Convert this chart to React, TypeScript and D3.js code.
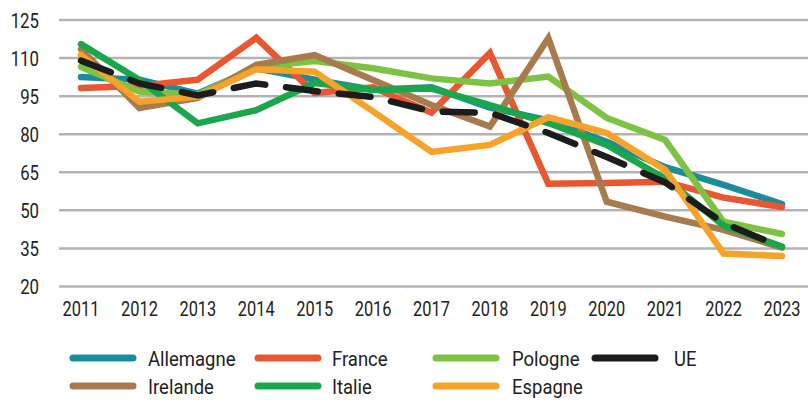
import React from "react";
import * as d3 from "d3";

const years = ["2011","2012","2013","2014","2015","2016","2017","2018","2019","2020","2021","2022","2023"];
const yTicks = [20, 35, 50, 65, 80, 95, 110, 125];

const allemagne = [102.5, 101.5, 96, 106, 101.5, 97.5, 98.5, 90.5, 85.5, 77, 67, 60, 52.5];
const france = [98.2, 99, 101.5, 118, 96.2, 98.5, 88.5, 112, 60.5, 60.8, 61.3, 55, 51.3];
const pologne = [106.5, 96.8, 95.6, 106.5, 108.8, 106, 102, 100, 102.7, 86.4, 77.7, 45.5, 40.7];
const ue = [109, 100, 95.3, 100, 97, 94.7, 89, 88.4, 80.5, 71, 61, 45, 35.5];
const irelande = [113.5, 90.3, 94.3, 107.3, 111.2, 101.4, 91.5, 83, 117.8, 53.4, 47.5, 42.3, 35.3];
const italie = [115.5, 101.4, 84.3, 89.5, 100.2, 97.4, 98, 91.5, 84.4, 75.8, 62.5, 44, 35.7];
const espagne = [111.2, 92.8, 94.8, 105.6, 104.6, 89, 73, 75.8, 86.7, 80.5, 65.9, 33, 32];

const series = [
  { name: "Allemagne", values: allemagne, color: "#1b8c9c" },
  { name: "France", values: france, color: "#e9562f" },
  { name: "Pologne", values: pologne, color: "#7cc243" },
  { name: "Irelande", values: irelande, color: "#a87b4f" },
  { name: "Italie", values: italie, color: "#1aa64b" },
  { name: "Espagne", values: espagne, color: "#f7a329" },
  { name: "UE", values: ue, color: "#1c1c1c", dashed: true },
];

const legendRows = [
  ["Allemagne", "France", "Pologne", "UE"],
  ["Irelande", "Italie", "Espagne"],
];

const FONT = "Roboto, 'Liberation Sans', sans-serif";

export default function App() {
  const W = 808, H = 400;
  const x = d3.scalePoint<string>().domain(years).range([81, 782]);
  const y = d3.scaleLinear().domain([20, 125]).range([286.5, 20]);
  const line = d3.line<number>().x((_, i) => x(years[i]) as number).y((d) => y(d));
  const colorOf = (n: string) => series.find((s) => s.name === n)!;
  const swatchX = [70, 255, 433, 592];
  const textX = [148, 332, 512, 674];
  const rowY = [358, 386];

  return (
    <svg width={W} height={H} style={{ position: "absolute", left: 0, top: 0, background: "#fff" }} fontFamily={FONT}>
      {yTicks.map((t) => (
        <g key={t}>
          <line x1={59} x2={W} y1={y(t)} y2={y(t)} stroke="#b3b3b5" strokeWidth={2.5} />
          <text transform={`translate(39,${y(t)}) scale(0.8,1)`} dy="0.36em" textAnchor="end" fontSize={21} fill="#222">{t}</text>
        </g>
      ))}
      {years.map((yr) => (
        <text key={yr} transform={`translate(${x(yr)},316) scale(0.78,1)`} textAnchor="middle" fontSize={21} fill="#222">{yr}</text>
      ))}
      {series.map((s) => (
        <path
          key={s.name}
          d={line(s.values) || ""}
          fill="none"
          stroke={s.color}
          strokeWidth={6.5}
          strokeLinejoin="miter"
          strokeLinecap="round"
          strokeDasharray={s.dashed ? "32 21" : undefined}
        />
      ))}
      {legendRows.map((row, ri) =>
        row.map((name, ci) => {
          const s = colorOf(name);
          return (
            <g key={name}>
              <line x1={swatchX[ci] + 3} x2={swatchX[ci] + 63} y1={rowY[ri]} y2={rowY[ri]} stroke={s.color} strokeWidth={7} strokeLinecap="round" />
              <text transform={`translate(${textX[ci]},${rowY[ri]}) scale(0.88,1)`} dy="0.36em" fontSize={21} fill="#222">{name}</text>
            </g>
          );
        })
      )}
    </svg>
  );
}
